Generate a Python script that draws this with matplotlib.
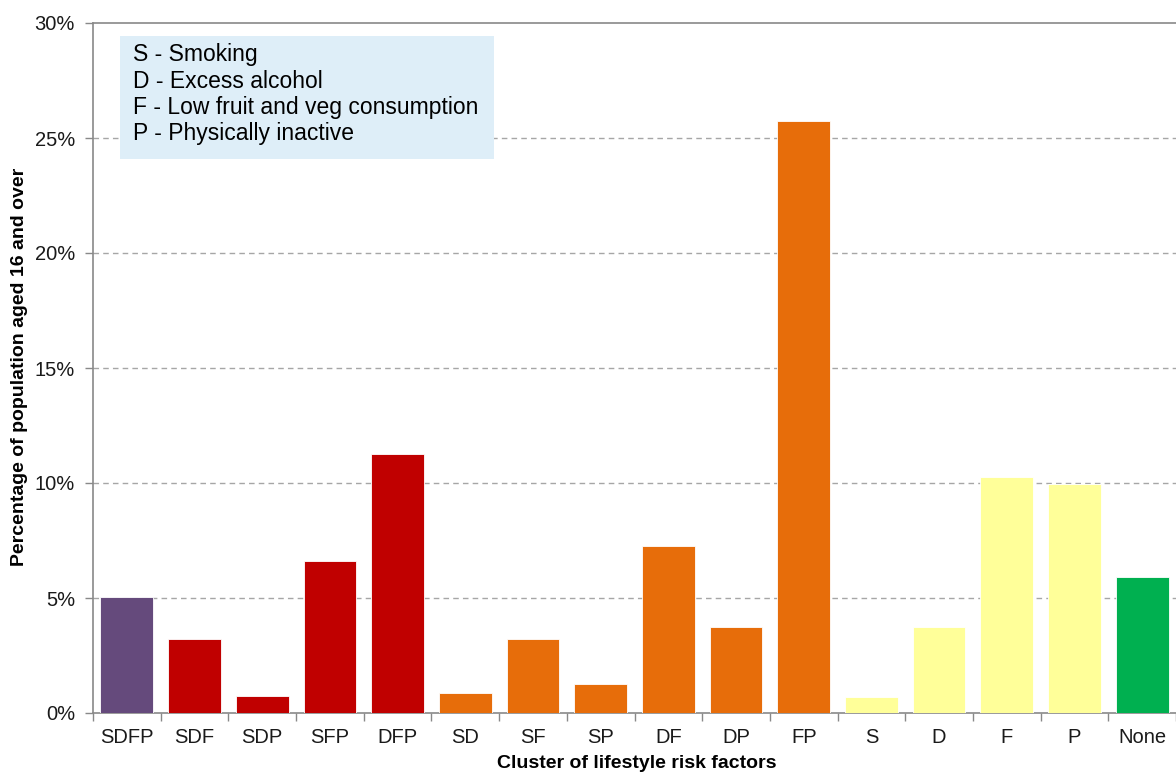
import matplotlib
matplotlib.use("Agg")
import matplotlib.pyplot as plt
from matplotlib.ticker import FuncFormatter, FixedLocator
from matplotlib.patches import Rectangle

plt.rcParams['font.family'] = ['Liberation Sans', 'DejaVu Sans']

categories = ["SDFP", "SDF", "SDP", "SFP", "DFP", "SD", "SF", "SP", "DF", "DP",
              "FP", "S", "D", "F", "P", "None"]
values = [5.05, 3.22, 0.74, 6.6, 11.28, 0.87, 3.22, 1.28, 7.26, 3.72,
          25.76, 0.7, 3.72, 10.25, 9.95, 5.93]
groups = ["four", "three", "three", "three", "three", "two", "two", "two", "two", "two",
          "two", "one", "one", "one", "one", "none"]
group_colors = {"four": "#654A7C", "three": "#C00000", "two": "#E76D0A",
                "one": "#FFFF99", "none": "#00B050"}
key_lines = ["S - Smoking", "D - Excess alcohol", "F - Low fruit and veg consumption",
             "P - Physically inactive"]

W, H = 1176, 773
fig = plt.figure(figsize=(W / 100, H / 100), dpi=100)
ax = fig.add_axes([93/W, 1-713/H, 1-93/W, (713-23)/H])

x = list(range(len(categories)))
ax.bar(x, values, width=0.78, color=[group_colors[g] for g in groups],
       edgecolor="#FFFFFF", linewidth=0.6, zorder=3)

ax.set_xlim(-0.5, len(categories) - 0.5)
ax.set_ylim(0, 30)
ax.set_yticks(range(0, 31, 5))
ax.yaxis.set_major_formatter(FuncFormatter(lambda v, p: f"{int(v)}%"))
for yv in range(5, 30, 5):
    ax.axhline(yv, color="#A6A6A6", linestyle=(0, (4, 3)), linewidth=1.0, zorder=1)

ax.set_xticks(x)
ax.set_xticklabels(categories)
ax.xaxis.set_minor_locator(FixedLocator([i - 0.5 for i in range(len(categories) + 1)]))
ax.tick_params(axis="x", which="major", length=0, pad=11, labelsize=14.5, labelcolor="#1a1a1a")
ax.tick_params(axis="x", which="minor", length=6, width=1, color="#898989", direction="out")
ax.tick_params(axis="y", which="major", length=6, width=1, color="#898989", direction="out",
               labelsize=14.5, labelcolor="#1a1a1a", pad=7)

for side in ["left", "bottom", "top"]:
    ax.spines[side].set_color("#898989")
    ax.spines[side].set_linewidth(1.2)
ax.spines["right"].set_visible(False)

fig.text(637/W, 1-763/H, "Cluster of lifestyle risk factors", fontsize=14,
         fontweight="bold", ha="center", va="center")
fig.text(20/W, 1-367/H, "Percentage of population aged 16 and over", fontsize=14,
         fontweight="bold", ha="center", va="center", rotation=90)

fig.patches.append(Rectangle((120/W, 1-159/H), (494-120)/W, (159-36)/H,
                             transform=fig.transFigure, facecolor="#DEEEF8",
                             edgecolor="none", zorder=5))
for i, line in enumerate(key_lines):
    fig.text(133/W, 1-(55 + i*26.3)/H, line, fontsize=16.5, color="#000000",
             va="center", ha="left", zorder=6)

fig.savefig("out.png", dpi=100)
